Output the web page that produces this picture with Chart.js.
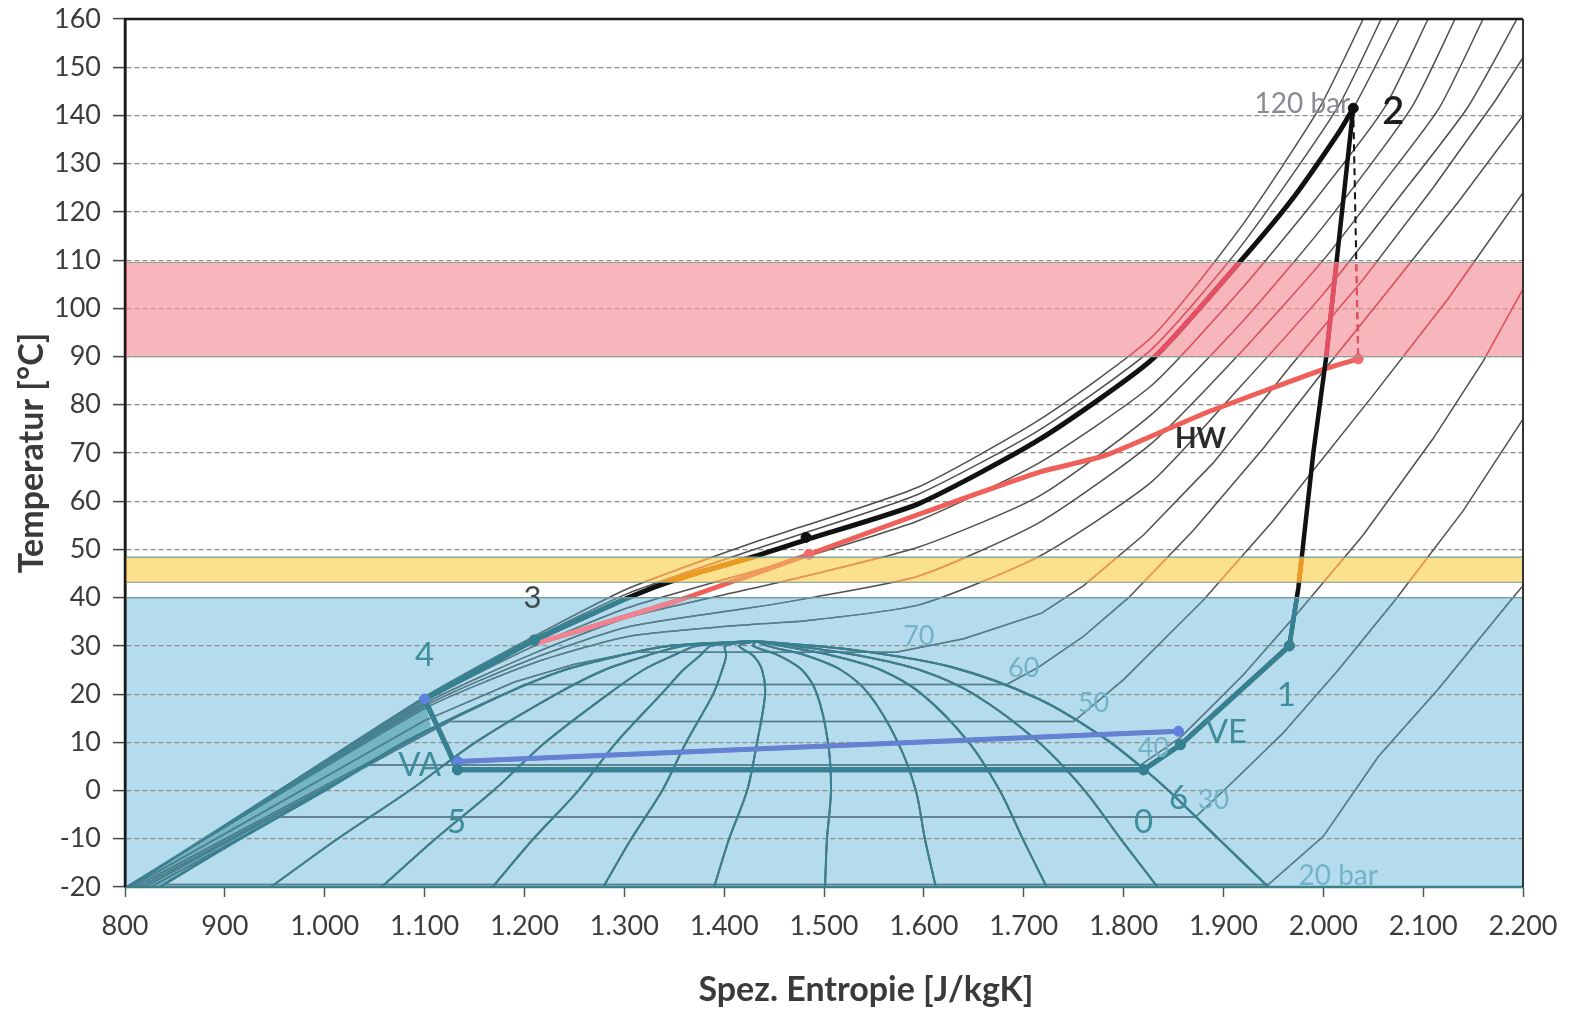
<!DOCTYPE html>
<html lang="de">
<head>
<meta charset="utf-8">
<title>T-s-Diagramm CO2</title>
<script src="https://cdn.jsdelivr.net/npm/chart.js@4.4.1/dist/chart.umd.min.js"></script>
<style>
  html, body { margin: 0; padding: 0; background: #fff; }
  #wrap { width: 1573px; height: 1012px; }
</style>
</head>
<body>
<div id="wrap"><canvas id="chart" width="1573" height="1012"></canvas></div>
<script>
// T-s-Diagramm CO2 (R744) mit Kreisprozess

const FONT = 'Lato, "Open Sans", "DejaVu Sans", sans-serif';

// Achsen
const S_MIN = 800, S_MAX = 2200, S_STEP = 100;
const T_MIN = -20, T_MAX = 160, T_STEP = 10;

// Temperaturbänder: blau, gelb, rot
const bandLow = [-20, 43.2, 90];
const bandHigh = [40, 48.4, 109.5];

// Isobaren [s, T]
const p20 = [[835, -20], [839, -19.5], [1945, -19.5], [2000, -9.5], [2055, 7], [2115, 21], [2188, 39.5], [2200, 42.5]];
const p30 = [[826, -20], [953, -5.5], [1872, -5.5], [1908, 1.5], [1960, 12], [2015, 25], [2072, 39.5], [2140, 58], [2200, 77]];
const p40 = [[820, -20], [1043, 5.3], [1817, 5.3], [1857, 11], [1920, 24], [1975, 37], [2040, 53], [2110, 73], [2160, 89], [2200, 104]];
const p50 = [[815, -20], [1125, 14.3], [1750, 14.3], [1800, 23], [1880, 39.5], [1950, 56], [2050, 82], [2125, 102], [2200, 124]];
const p60 = [[810, -20], [1100, 12], [1200, 22], [1683, 22], [1715, 25.6], [1760, 32], [1805, 40], [1870, 54], [1940, 71], [2004, 88], [2070, 105], [2135, 122], [2200, 140]];
const p70 = [[806, -20], [1100, 14.5], [1190, 22.5], [1250, 26.2], [1310, 28.7], [1572, 28.7], [1640, 31.5], [1718, 36.8], [1760, 42.5], [1820, 53], [1890, 68], [1967, 88], [2040, 106], [2110, 125], [2172, 143], [2200, 152]];
const p80 = [[801, -20], [1100, 17], [1210, 26.5], [1305, 32], [1430, 34.5], [1482, 35.2], [1595, 38.5], [1715, 48.5], [1828, 64], [1918, 84], [2000, 103], [2072, 122], [2144, 141.5], [2194, 160]];
const p90 = [[800, -20.2], [1100, 17.5], [1210, 27.5], [1305, 34], [1430, 38], [1482, 39.8], [1595, 44.5], [1715, 55.5], [1828, 72], [1918, 91], [2000, 110], [2060, 126], [2116, 141.5], [2160, 160]];
const p100 = [[800, -20.3], [1100, 18], [1210, 28.5], [1305, 36], [1430, 42], [1482, 44.5], [1595, 50.5], [1715, 61], [1828, 78], [1918, 97], [2000, 117], [2088, 141.5], [2132, 160]];
const p110 = [[800, -20.4], [1100, 18.5], [1210, 30], [1305, 38], [1430, 45.5], [1482, 48.5], [1595, 56], [1715, 67.9], [1828, 84], [1918, 104], [1990, 122], [2061, 141.5], [2105, 160]];
const p120 = [[800, -20.5], [1100, 19], [1210, 31.2], [1305, 40.1], [1428, 48.4], [1482, 52], [1595, 59.5], [1715, 72.7], [1828, 89.3], [1918, 110], [1968, 122.4], [2030, 141.5], [2076, 160]];
const p130 = [[800, -20.6], [1100, 19.2], [1210, 31.6], [1305, 41], [1430, 50], [1482, 53.5], [1595, 61.5], [1715, 74.7], [1828, 91.5], [1918, 113], [2014, 141.5], [2058, 160]];
const p140 = [[800, -20.7], [1100, 19.4], [1210, 32], [1305, 42], [1430, 51.5], [1482, 55], [1595, 63], [1715, 76.8], [1828, 94], [1918, 117], [1996, 141.5], [2040, 160]];

// Nassdampfgebiet
const satLiquid = [[835, -20], [915, -10], [1000, 0], [1080, 10], [1180, 20], [1240, 25], [1296, 28], [1345, 30], [1432, 31]];
const satVapor = [[1432, 31], [1528, 29.2], [1628, 25.6], [1715, 19], [1780, 11], [1823, 4], [1845, 0], [1895, -10], [1945, -20]];
const liquidWedge = [[800, -20], [1100, 19.4], [1107, 12.5], [835, -20]];

// Linien gleichen Dampfgehalts x = 0,1 ... 0,9
const qualT = [-20, -10, 0, 10, 20, 25, 28, 30, 31];
const x01 = [946, 1013, 1085, 1151, 1232, 1280, 1323, 1359, 1432];
const x02 = [1057, 1111, 1169, 1221, 1284, 1319, 1349, 1373, 1432];
const x03 = [1168, 1209, 1254, 1292, 1337, 1359, 1376, 1387, 1432];
const x04 = [1279, 1307, 1338, 1362, 1389, 1398, 1402, 1401, 1432];
const x05 = [1390, 1405, 1423, 1433, 1441, 1438, 1429, 1415, 1432];
const x06 = [1501, 1503, 1507, 1504, 1493, 1478, 1455, 1429, 1432];
const x07 = [1612, 1601, 1592, 1574, 1545, 1517, 1482, 1443, 1432];
const x08 = [1723, 1699, 1676, 1645, 1598, 1557, 1508, 1457, 1432];
const x09 = [1834, 1797, 1761, 1715, 1650, 1596, 1535, 1471, 1432];

// Kreisprozess
const compression = [[1966, 30], [1975, 42], [1990, 70], [2003, 90], [2030, 141.5]];
const gasCooler = [[2030, 141.5], [2015, 136.3], [1968, 122.4], [1918, 110], [1828, 89.3], [1715, 72.7], [1595, 59.5], [1482, 52], [1428, 48.4], [1355, 44], [1305, 40.1], [1210, 31.2]];
const isentrope = [[2030, 141.5], [2035, 89.5]];
const lowSide = [[1210, 31.2], [1100, 19], [1133, 4.3], [1820, 4.3], [1857, 9.5], [1966, 30]];
const evaporatorAir = [[1133, 6], [1855, 12.3]];
const hotWater = [[1212, 30.5], [1355, 39.5], [1485, 49], [1595, 57.3], [1715, 66], [1782, 69.5], [1882, 78.3], [1998, 87.2], [2035, 89.5]];

// Markierte Zustandspunkte
const blackDots = [[2030, 141.5], [1482, 52.5]];
const tealDots = [[1210, 31.2], [1966, 30], [1820, 4.3], [1857, 9.5], [1133, 4.3]];
const blueDots = [[1133, 6], [1855, 12.3], [1100, 19]];
const redDots = [[2035, 89.5], [1485, 49]];

const isobars = [p20, p30, p40, p50, p60, p70, p80, p90, p100, p110, p120, p130, p140];
const qualityLines = [x01, x02, x03, x04, x05, x06, x07, x08, x09];

// Beschriftungen im Diagramm
const annotations = [
  { text: '2', s: 2070, t: 140.7, size: 38, color: '#1e1e1e', weight: '600' },
  { text: '120 bar', s: 2027, t: 142.4, size: 28, color: '#8a8a94', align: 'right' },
  { text: '3', s: 1208, t: 40, size: 31, color: '#3f4a4e' },
  { text: '4', s: 1100, t: 28, size: 33, color: '#3f8d9b' },
  { text: 'VA', s: 1095, t: 5.2, size: 33, color: '#3f8d9b' },
  { text: '5', s: 1132, t: -6.6, size: 33, color: '#3f8d9b' },
  { text: '0', s: 1820, t: -6.6, size: 33, color: '#3f8d9b' },
  { text: '6', s: 1855, t: -1.6, size: 33, color: '#3f8d9b' },
  { text: 'VE', s: 1903, t: 12, size: 33, color: '#3f8d9b' },
  { text: '1', s: 1963, t: 19.7, size: 33, color: '#3f8d9b' },
  { text: 'HW', s: 1877, t: 73, size: 28, color: '#2b2b2b', weight: 'bold' },
  { text: '70', s: 1595, t: 32, size: 27, color: '#74b3c6' },
  { text: '60', s: 1700, t: 25.4, size: 27, color: '#74b3c6' },
  { text: '50', s: 1770, t: 18, size: 27, color: '#74b3c6' },
  { text: '40', s: 1830, t: 8.8, size: 27, color: '#74b3c6' },
  { text: '30', s: 1890, t: -2, size: 27, color: '#74b3c6' },
  { text: '20 bar', s: 2015, t: -17.8, size: 28, color: '#74b3c6' }
];

const BAND_FILL = ['#b4dcec', '#fce18c', '#f7b6bb'];
const BAND_TINT = ['rgb(52,130,145)', 'rgb(235,155,30)', 'rgb(225,80,100)'];

const xy = arr => arr.map(([x, y]) => ({ x, y }));

function fmtDe(v) {
  if (Math.abs(v) < 1000) return String(v);
  return Math.floor(v / 1000) + '.' + String(v % 1000).padStart(3, '0');
}

const datasets = [];

isobars.forEach((pts, i) => datasets.push({
  label: 'Isobare ' + i, data: xy(pts), showLine: true,
  borderColor: 'rgba(60,60,60,0.9)', borderWidth: 1.5, pointRadius: 0,
  tension: i >= 6 ? 0.2 : 0, order: 10
}));

qualityLines.forEach((sv, i) => datasets.push({
  label: 'x ' + (i + 1) / 10, data: sv.map((s, k) => ({ x: s, y: qualT[k] })), showLine: true,
  borderColor: '#262626', borderWidth: 2, pointRadius: 0, tension: 0.3, order: 9
}));

[satLiquid, satVapor].forEach(pts => datasets.push({
  label: 'Grenzkurve', data: xy(pts), showLine: true,
  borderColor: '#222', borderWidth: 2.2, pointRadius: 0, tension: 0.3, order: 8
}));

datasets.push({ label: 'HW', data: xy(hotWater), showLine: true, borderColor: '#f0605a', borderWidth: 5, pointRadius: 0, tension: 0.15, order: 5 });
datasets.push({ label: 'Gaskühler', data: xy(gasCooler), showLine: true, borderColor: '#111', borderWidth: 5, pointRadius: 0, tension: 0.2, order: 4 });
datasets.push({ label: 'Verdichtung', data: xy(compression), showLine: true, borderColor: '#111', borderWidth: 4.5, pointRadius: 0, order: 4 });
datasets.push({ label: 'Isentrope', data: xy(isentrope), showLine: true, borderColor: '#111', borderWidth: 2, borderDash: [7, 5], pointRadius: 0, order: 4 });
datasets.push({ label: 'Niederdruck', data: xy(lowSide), showLine: true, borderColor: '#1b1b1b', borderWidth: 5, pointRadius: 0, order: 3 });
datasets.push({ label: 'VA-VE', data: xy(evaporatorAir), showLine: true, borderColor: '#6470d2', borderWidth: 5, pointRadius: 0, order: 2 });

[[blackDots, '#111'], [tealDots, '#1b1b1b'], [blueDots, '#5f78e0'], [redDots, '#f26a70']].forEach(([pts, c]) => datasets.push({
  label: 'Punkte', data: xy(pts), showLine: false, pointRadius: 5, pointBackgroundColor: c, pointBorderColor: c, order: 1
}));

const bandPlugin = {
  id: 'bands',
  beforeDraw(chart) {
    const { ctx, chartArea: a, scales: { y } } = chart;
    ctx.save();
    bandLow.forEach((lo, i) => {
      const top = y.getPixelForValue(bandHigh[i]);
      const bot = y.getPixelForValue(lo);
      ctx.fillStyle = BAND_FILL[i];
      ctx.fillRect(a.left, top, a.right - a.left, bot - top);
    });
    ctx.restore();
  },
  beforeDatasetsDraw(chart) {
    const { ctx, chartArea: a, scales: { x, y } } = chart;
    ctx.save();
    ctx.beginPath();
    ctx.rect(a.left, a.top, a.right - a.left, a.bottom - a.top);
    ctx.clip();
    ctx.beginPath();
    liquidWedge.forEach(([s, t], i) => {
      const px = x.getPixelForValue(s), py = y.getPixelForValue(t);
      if (i === 0) ctx.moveTo(px, py); else ctx.lineTo(px, py);
    });
    ctx.closePath();
    ctx.fillStyle = '#74b5c4';
    ctx.fill();
    ctx.restore();
  },
  afterDatasetsDraw(chart) {
    const { ctx, chartArea: a, scales: { y } } = chart;
    ctx.save();
    bandLow.forEach((lo, i) => {
      const top = y.getPixelForValue(bandHigh[i]);
      const bot = y.getPixelForValue(lo);
      ctx.globalCompositeOperation = 'lighten';
      ctx.fillStyle = BAND_TINT[i];
      ctx.fillRect(a.left, top, a.right - a.left, bot - top);
      ctx.globalCompositeOperation = 'source-over';
      ctx.strokeStyle = i === 2 ? '#9a9a9a' : '#6f9c9c';
      ctx.lineWidth = 1.2;
      ctx.beginPath();
      ctx.moveTo(a.left, top); ctx.lineTo(a.right, top);
      if (i > 0) { ctx.moveTo(a.left, bot); ctx.lineTo(a.right, bot); }
      ctx.stroke();
    });
    ctx.restore();
  }
};

const labelPlugin = {
  id: 'labels',
  afterDraw(chart) {
    const { ctx, chartArea: a, scales: { x, y } } = chart;
    ctx.save();
    // Rahmen
    ctx.lineWidth = 2.5;
    ctx.strokeStyle = '#3f7f8c';
    ctx.beginPath(); ctx.moveTo(a.left, a.bottom); ctx.lineTo(a.right, a.bottom); ctx.stroke();
    ctx.strokeStyle = '#1a1a1a';
    ctx.beginPath();
    ctx.moveTo(a.left, a.bottom); ctx.lineTo(a.left, a.top); ctx.lineTo(a.right, a.top);
    ctx.stroke();
    ctx.lineWidth = 2;
    ctx.strokeStyle = '#333';
    ctx.beginPath(); ctx.moveTo(a.right, a.top); ctx.lineTo(a.right, a.bottom); ctx.stroke();

    ctx.textBaseline = 'middle';
    annotations.forEach(l => {
      ctx.font = `${l.weight || 'normal'} ${l.size}px ${FONT}`;
      ctx.fillStyle = l.color;
      ctx.textAlign = l.align || 'center';
      ctx.fillText(l.text, x.getPixelForValue(l.s), y.getPixelForValue(l.t));
    });

    // Achsentitel
    ctx.font = `bold 34px ${FONT}`;
    ctx.fillStyle = '#3a3a3a';
    ctx.textAlign = 'center';
    ctx.fillText('Spez. Entropie [J/kgK]', 866, 990);
    ctx.translate(32, 453);
    ctx.rotate(-Math.PI / 2);
    ctx.fillText('Temperatur [°C]', 0, 0);
    ctx.restore();
  }
};

new Chart(document.getElementById('chart'), {
  type: 'scatter',
  data: { datasets },
  options: {
    responsive: false,
    animation: false,
    devicePixelRatio: 1,
    layout: { padding: { top: 19, right: 50, left: 0, bottom: 0 } },
    elements: { point: { radius: 0 } },
    plugins: { legend: { display: false }, tooltip: { enabled: false } },
    scales: {
      x: {
        type: 'linear', min: S_MIN, max: S_MAX,
        afterFit: s => { s.height = 125; s.paddingLeft = 0; s.paddingRight = 0; },
        ticks: { stepSize: S_STEP, callback: v => fmtDe(v), color: '#3c3c3c', padding: 13, maxRotation: 0, font: { family: FONT, size: 27 } },
        grid: { drawOnChartArea: false, drawTicks: true, tickLength: 10, tickColor: '#555', tickWidth: 1.5 },
        border: { display: true, color: '#3f7f8c', width: 2 }
      },
      y: {
        type: 'linear', min: T_MIN, max: T_MAX,
        afterFit: s => { s.width = 125; s.paddingTop = 0; s.paddingBottom = 0; },
        ticks: { stepSize: T_STEP, color: '#3c3c3c', padding: 12, font: { family: FONT, size: 27 } },
        grid: { color: '#8c8c8c', lineWidth: 1.2, drawTicks: true, tickLength: 12, tickColor: '#444', tickWidth: 1.5 },
        border: { display: true, color: '#111', width: 2.5, dash: [5, 3] }
      }
    }
  },
  plugins: [bandPlugin, labelPlugin]
});
</script>
</body>
</html>
